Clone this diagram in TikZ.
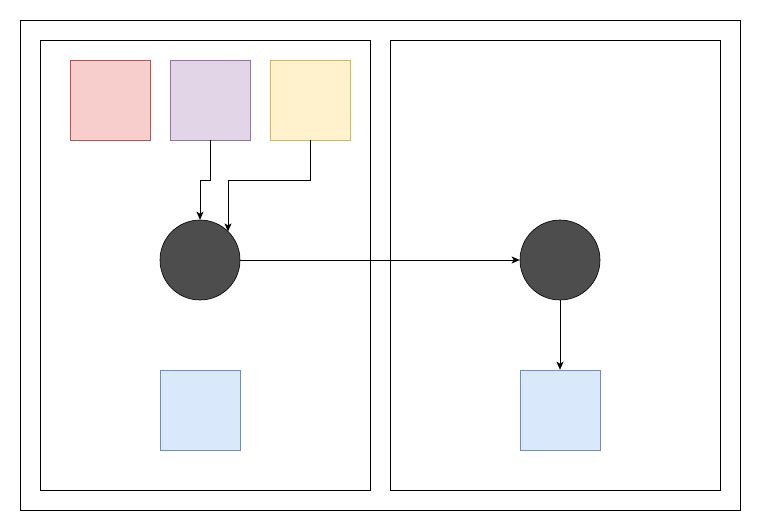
\documentclass[tikz,border=0pt]{standalone}
\usetikzlibrary{arrows.meta,calc}
\definecolor{redfill}{HTML}{F8CECC}\definecolor{redline}{HTML}{B85450}
\definecolor{purfill}{HTML}{E1D5E7}\definecolor{purline}{HTML}{9673A6}
\definecolor{yelfill}{HTML}{FFF2CC}\definecolor{yelline}{HTML}{D6B656}
\definecolor{blufill}{HTML}{DAE8FC}\definecolor{bluline}{HTML}{6C8EBF}
\definecolor{darkfill}{HTML}{4D4D4D}
\tikzset{
  sq/.style={draw, minimum width=80pt, minimum height=80pt, inner sep=0pt, line width=0.6pt},
  frame/.style={draw=black, line width=0.8pt},
  dot/.style={circle, draw=black, fill=darkfill, minimum size=80pt, inner sep=0pt, line width=0.6pt},
  conn/.style={draw=black, line width=0.9pt, -{Stealth[length=8pt,width=7pt,inset=2pt]}}
}
\begin{document}
\begin{tikzpicture}[x=1pt,y=-1pt]
\useasboundingbox (0,0) rectangle (761,531);
\fill[white] (0,0) rectangle (761,531);
\draw[frame] (20,20) rectangle (740,510);
\draw[frame] (40,40) rectangle (370,490);
\draw[frame] (390,40) rectangle (720,490);
\node[sq, fill=redfill, draw=redline] (r) at (110,100) {};
\node[sq, fill=purfill, draw=purline] (p) at (210,100) {};
\node[sq, fill=yelfill, draw=yelline] (y) at (310,100) {};
\node[dot] (c1) at (200,260) {};
\node[dot] (c2) at (560,260) {};
\node[sq, fill=blufill, draw=bluline] (b1) at (200,410) {};
\node[sq, fill=blufill, draw=bluline] (b2) at (560,410) {};
\draw[conn] (p.south) -- (210,180) -- (200,180) -- (c1.north);
\draw[conn] (y.south) -- (310,180) -- (228,180) -- (228,231.4);
\draw[conn] (c1.east) -- (c2.west);
\draw[conn] (c2.south) -- (b2.north);
\end{tikzpicture}
\end{document}
